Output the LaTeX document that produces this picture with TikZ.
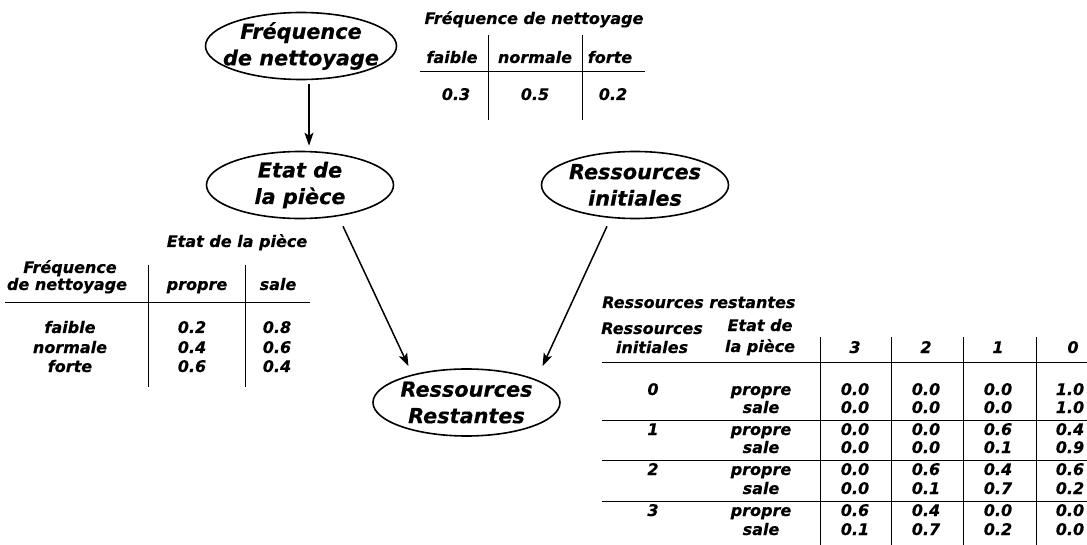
\documentclass[tikz,border=0pt]{standalone}
\usepackage{fontspec}
\setmainfont{DejaVu Sans}[BoldItalicFeatures={FakeBold=0.4}]
\usetikzlibrary{shapes.geometric,arrows.meta}
\begin{document}
\begin{tikzpicture}[x=1pt,y=-1pt,
  bnode/.style={ellipse, draw, line width=1.6pt, minimum width=187pt, minimum height=67pt,
    inner xsep=-22pt, inner ysep=-6pt, align=center, font=\fontsize{20.8}{26.5}\selectfont\bfseries\itshape},
  arr/.style={line width=1.5pt, -{Stealth[length=13pt,width=9pt,inset=3pt]}},
  tl/.style={line width=1pt},
  tx/.style={anchor=base, inner sep=0pt, font=\fontsize{16}{20}\selectfont\bfseries\itshape}
]
\useasboundingbox (0,0) rectangle (1087,545);

% ---- nodes (ellipses)
\node[bnode, minimum width=191pt] (freq) at (301,46) {Fréquence\\de nettoyage};
\node[bnode] (etat) at (300,185) {Etat de\\la pièce};
\node[bnode] (res)  at (635,185) {Ressources\\initiales};
\node[bnode] (rest) at (466.5,402.5) {Ressources\\Restantes};

% ---- connectors
\draw[arr] ([shift={(8,4)}]freq.south) -- ([shift={(9,-5)}]etat.north);
\draw[arr] ([shift={(43,7)}]etat.south) -- ([shift={(-58,-2)}]rest.north);
\draw[arr] ([shift={(-28,7)}]res.south) -- ([shift={(76,-2)}]rest.north);

% ---- table 1 : Fréquence de nettoyage
\node[tx] (t1title) at (534,24) {Fréquence de nettoyage};
\node[tx] (t1h1) at (452,63) {faible};
\node[tx] (t1h2) at (535,63) {normale};
\node[tx] (t1h3) at (610,63) {forte};
\node[tx] (t1v1) at (456,100) {0.3};
\node[tx] (t1v2) at (535,100) {0.5};
\node[tx] (t1v3) at (613,100) {0.2};
\draw[tl] (420,72) -- (645,72);
\draw[tl] (488,35) -- (488,120);
\draw[tl] (582,35) -- (582,120);

% ---- table 2 : Etat de la pièce
\node[tx] (t2title) at (237,247) {Etat de la pièce};
\node[tx] (t2r1) at (70,273) {Fréquence};
\node[tx] (t2r2) at (67,290) {de nettoyage};
\node[tx] (t2h1) at (197,290) {propre};
\node[tx] (t2h2) at (278,290) {sale};
\foreach \y/\l/\a/\b [count=\i] in {333/faible/0.2/0.8, 353/normale/0.4/0.6, 372/forte/0.6/0.4}{
  \node[tx] (t2l\i) at (70,\y) {\l};
  \node[tx] (t2a\i) at (192,\y) {\a};
  \node[tx] (t2b\i) at (277,\y) {\b};
}
\draw[tl] (5,303) -- (310,303);
\draw[tl] (148,265) -- (148,387);
\draw[tl] (245,265) -- (245,387);

% ---- table 3 : Ressources restantes
\node[tx, anchor=base west] (t3title) at (602,308) {Ressources restantes};
\node[tx] (t3c1a) at (652,334) {Ressources};
\node[tx] (t3c1b) at (652,353) {initiales};
\node[tx] (t3c2a) at (760,331) {Etat de};
\node[tx] (t3c2b) at (760,352) {la pièce};
\node[tx] (t3h1) at (855,353) {3};
\node[tx] (t3h2) at (926,353) {2};
\node[tx] (t3h3) at (998,353) {1};
\node[tx] (t3h4) at (1073,353) {0};
\foreach \y/\r/\s/\a/\b/\c/\d [count=\i] in {
  395/0/propre/0.0/0.0/0.0/1.0,
  413//sale/0.0/0.0/0.0/1.0,
  435/1/propre/0.0/0.0/0.6/0.4,
  453//sale/0.0/0.0/0.1/0.9,
  475/2/propre/0.0/0.6/0.4/0.6,
  494//sale/0.0/0.1/0.7/0.2,
  516/3/propre/0.6/0.4/0.0/0.0,
  535//sale/0.1/0.7/0.2/0.0}{
  \node[tx] (t3r\i) at (653,\y) {\r};
  \node[tx] (t3s\i) at (761,\y) {\s};
  \node[tx] (t3a\i) at (855,\y) {\a};
  \node[tx] (t3b\i) at (926,\y) {\b};
  \node[tx] (t3c\i) at (998,\y) {\c};
  \node[tx] (t3d\i) at (1070,\y) {\d};
}
\draw[tl] (602,362) -- (1087,362);
\foreach \y in {420,460,501}{ \draw[tl] (602,\y) -- (1087,\y); }
\foreach \x in {820,891,963,1036}{ \draw[tl] (\x,337) -- (\x,545); }
\end{tikzpicture}
\end{document}
